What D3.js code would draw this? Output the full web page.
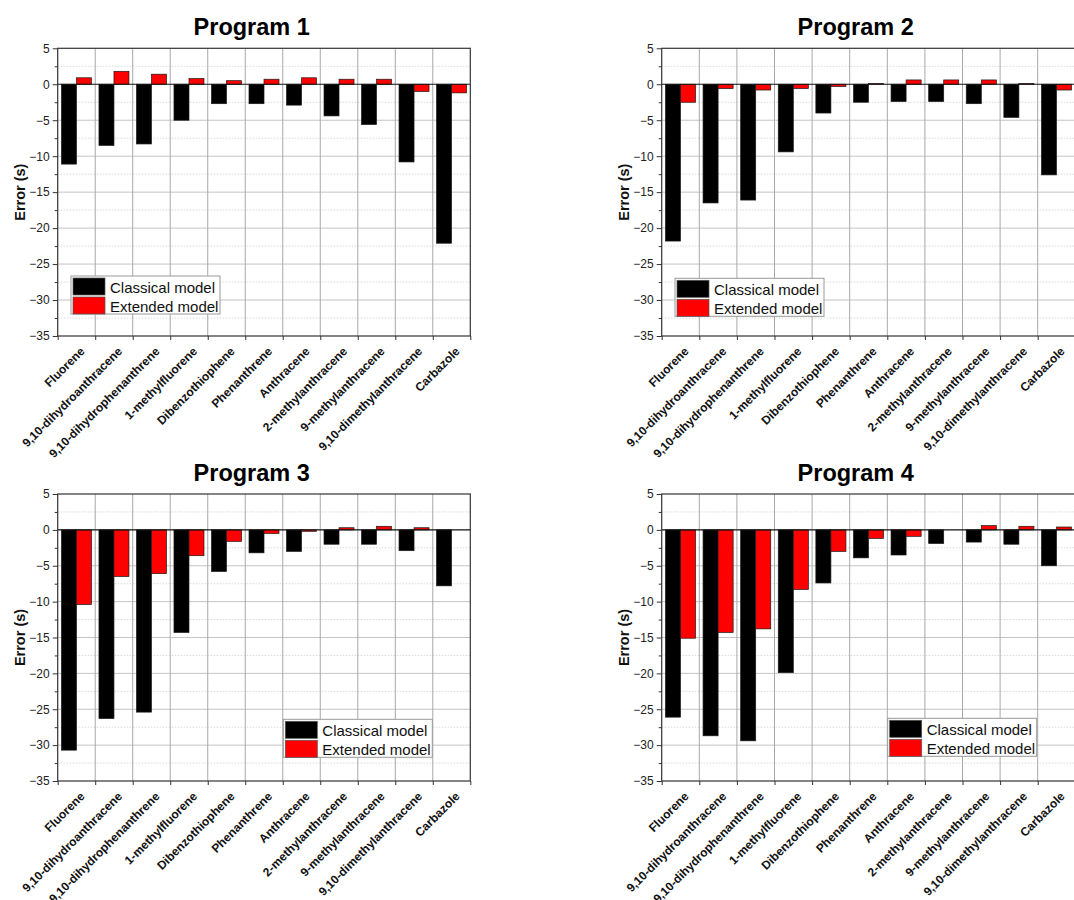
<!DOCTYPE html>
<html><head><meta charset="utf-8">
<script src="https://cdn.jsdelivr.net/npm/d3@7"></script>
<style>body{margin:0;background:#fff;} svg{display:block;font-family:"Liberation Sans",Arial,sans-serif;}</style>
</head><body><svg id="c" width="1074" height="900"></svg>
<script>
const categories = ["Fluorene","9,10-dihydroanthracene","9,10-dihydrophenanthrene","1-methylfluorene","Dibenzothiophene","Phenanthrene","Anthracene","2-methylanthracene","9-methylanthracene","9,10-dimethylanthracene","Carbazole"];
const seriesNames = ["Classical model","Extended model"];
const seriesColors = ["#000000","#ff0000"];
const programTitles = ["Program 1","Program 2","Program 3","Program 4"];
const classicalP1 = [-11.1,-8.5,-8.3,-5.0,-2.7,-2.7,-2.9,-4.4,-5.6,-10.8,-22.1];
const extendedP1  = [0.9,1.8,1.4,0.8,0.5,0.7,0.9,0.7,0.7,-1.0,-1.2];
const classicalP2 = [-21.8,-16.5,-16.1,-9.4,-4.0,-2.5,-2.4,-2.4,-2.7,-4.6,-12.6];
const extendedP2  = [-2.5,-0.6,-0.8,-0.6,-0.3,0.1,0.6,0.6,0.6,0.1,-0.8];
const classicalP3 = [-30.7,-26.3,-25.4,-14.3,-5.8,-3.2,-3.0,-2.0,-2.0,-2.9,-7.8];
const extendedP3  = [-10.4,-6.5,-6.1,-3.6,-1.6,-0.5,-0.2,0.3,0.5,0.3,0.0];
const classicalP4 = [-26.1,-28.7,-29.4,-19.9,-7.4,-3.9,-3.5,-1.9,-1.7,-2.0,-5.0];
const extendedP4  = [-15.1,-14.3,-13.8,-8.3,-3.0,-1.2,-0.9,0.0,0.6,0.5,0.4];
const yMajorTicks = [5,0,-5,-10,-15,-20,-25,-30,-35];
const yMinorTicks = [2.5,-2.5,-7.5,-12.5,-17.5,-22.5,-27.5,-32.5];
const yDomain = [-35,5];
const yLabel = "Error (s)";

const programData = [
  [classicalP1, extendedP1],
  [classicalP2, extendedP2],
  [classicalP3, extendedP3],
  [classicalP4, extendedP4]
];

// layout (positions only)
const panels = [
  {left:57.7,  right:470.3,  top:48.3, bottom:336, legX:13.3, legY:227.7},
  {left:661.7, right:1075.3, top:48.3, bottom:336, legX:13.3, legY:230},
  {left:57.7,  right:470.3,  top:494,  bottom:781, legX:225.6, legY:225.3},
  {left:661.7, right:1075.3, top:494,  bottom:781, legX:226, legY:224.3}
];

const svg = d3.select("#c");

panels.forEach((p, i) => {
  const g = svg.append("g");
  const x0 = d3.scaleBand().domain(categories).range([p.left, p.right]).paddingInner(0).paddingOuter(0);
  const bw = x0.bandwidth();
  const x1 = d3.scaleBand().domain(seriesNames).range([bw*0.1, bw*0.9]).padding(0);
  const y = d3.scaleLinear().domain(yDomain).range([p.bottom, p.top]);

  // minor horizontal grid (dotted)
  g.append("g").selectAll("line").data(yMinorTicks).join("line")
    .attr("x1", p.left).attr("x2", p.right)
    .attr("y1", d => y(d)).attr("y2", d => y(d))
    .attr("stroke", "#cfcfcf").attr("stroke-width", 0.8).attr("stroke-dasharray", "1.5,1.5");
  // major horizontal grid
  g.append("g").selectAll("line").data(yMajorTicks.filter(d => d !== 0 && d !== 5 && d !== -35)).join("line")
    .attr("x1", p.left).attr("x2", p.right)
    .attr("y1", d => y(d)).attr("y2", d => y(d))
    .attr("stroke", "#c4c4c4").attr("stroke-width", 1);
  // vertical grid at band boundaries
  const bounds = categories.slice(1).map(c => x0(c));
  g.append("g").selectAll("line").data(bounds).join("line")
    .attr("x1", d => d).attr("x2", d => d)
    .attr("y1", p.top).attr("y2", p.bottom)
    .attr("stroke", "#a8a8a8").attr("stroke-width", 1);

  // bars
  const rows = categories.map((c, k) => ({cat: c, vals: seriesNames.map((s, j) => ({s, j, v: programData[i][j][k]}))}));
  const grp = g.append("g").selectAll("g").data(rows).join("g")
    .attr("transform", d => `translate(${x0(d.cat)},0)`);
  grp.selectAll("rect").data(d => d.vals).join("rect")
    .attr("x", d => x1(d.s))
    .attr("width", x1.bandwidth())
    .attr("y", d => y(Math.max(0, d.v)))
    .attr("height", d => Math.abs(y(d.v) - y(0)))
    .attr("fill", d => seriesColors[d.j])
    .attr("stroke", d => d.v === 0 ? "none" : "#1a1a1a").attr("stroke-width", 0.7);

  // zero line
  g.append("line").attr("x1", p.left).attr("x2", p.right)
    .attr("y1", y(0)).attr("y2", y(0)).attr("stroke", "#111").attr("stroke-width", 1.2);

  // frame
  g.append("rect").attr("x", p.left).attr("y", p.top)
    .attr("width", p.right - p.left).attr("height", p.bottom - p.top)
    .attr("fill", "none").attr("stroke", "#333").attr("stroke-width", 1.2);

  // y axis
  const yAxis = d3.axisLeft(y).tickValues(yMajorTicks).tickSize(5).tickPadding(3).tickFormat(d3.format("d"));
  const ya = g.append("g").attr("transform", `translate(${p.left},0)`).call(yAxis);
  ya.select(".domain").remove();
  ya.selectAll("text").attr("font-size", 12).attr("fill", "#222").attr("font-family", "Liberation Sans, Arial, sans-serif");
  ya.selectAll("line").attr("stroke", "#333");
  const yMinorAxis = d3.axisLeft(y).tickValues(yMinorTicks).tickSize(3).tickFormat("");
  const ym = g.append("g").attr("transform", `translate(${p.left},0)`).call(yMinorAxis);
  ym.select(".domain").remove();
  ym.selectAll("line").attr("stroke", "#333");

  // x axis ticks at band boundaries + labels
  const xTickAxis = d3.axisBottom(d3.scaleLinear().domain([p.left, p.right]).range([p.left, p.right]))
    .tickValues([p.left, ...bounds, p.right]).tickSize(4).tickFormat("");
  const xa = g.append("g").attr("transform", `translate(0,${p.bottom})`).call(xTickAxis);
  xa.select(".domain").remove();
  xa.selectAll("line").attr("stroke", "#333");

  g.append("g").selectAll("text").data(categories).join("text")
    .attr("transform", d => `translate(${x0(d) + bw/2 + 9},${p.bottom + 16}) rotate(-45)`)
    .attr("text-anchor", "end")
    .attr("font-size", 12).attr("font-weight", "bold").attr("fill", "#111")
    .text(d => d);

  // title
  g.append("text").attr("x", p.left + 194).attr("y", p.top - 13)
    .attr("text-anchor", "middle").attr("font-size", 23.5).attr("font-weight", "bold").attr("fill", "#000")
    .text(programTitles[i]);

  // y label
  g.append("text")
    .attr("transform", `translate(${p.left - 33},${(p.top + p.bottom)/2}) rotate(-90)`)
    .attr("text-anchor", "middle").attr("font-size", 14.5).attr("font-weight", "bold").attr("fill", "#111")
    .text(yLabel);

  // legend
  const lg = g.append("g").attr("transform", `translate(${p.left + p.legX},${p.top + p.legY})`);
  lg.append("rect").attr("x", 0).attr("y", 0).attr("width", 149).attr("height", 38)
    .attr("fill", "#fff").attr("stroke", "#999").attr("stroke-width", 1);
  seriesNames.forEach((s, j) => {
    lg.append("rect").attr("x", 2).attr("y", 2 + j*19).attr("width", 32).attr("height", 17)
      .attr("fill", seriesColors[j]).attr("stroke", "#555").attr("stroke-width", 0.7);
    lg.append("text").attr("x", 39).attr("y", 16.5 + j*19)
      .attr("font-size", 15).attr("fill", "#111").text(s);
  });
});
</script>
</body></html>
